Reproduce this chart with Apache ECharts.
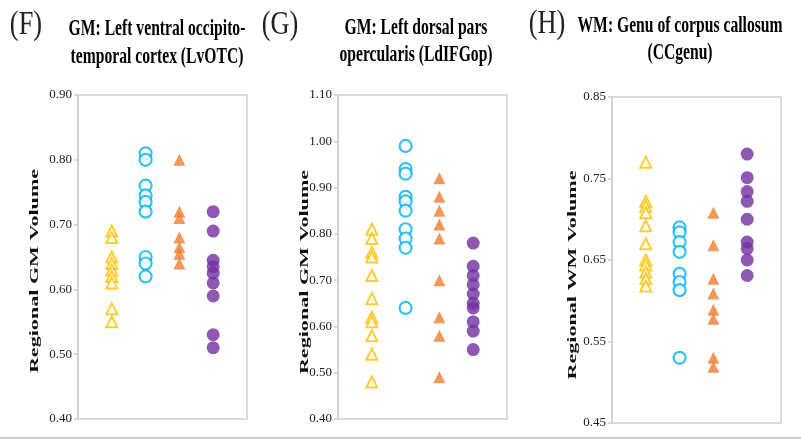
<!DOCTYPE html>
<html><head><meta charset="utf-8">
<script src="https://cdn.jsdelivr.net/npm/echarts@6/dist/echarts.min.js"></script>
<style>html,body{margin:0;padding:0;background:#fff}#c{width:801px;height:447px}</style>
</head><body><div id="c"></div>
<script>
// Groups (x positions 1..4 on each panel)
const groups = [1, 2, 3, 4];

// Panel F: GM LvOTC
const F_yellow = [0.69, 0.68, 0.65, 0.64, 0.63, 0.62, 0.61, 0.57, 0.55];
const F_blue   = [0.81, 0.80, 0.76, 0.745, 0.735, 0.72, 0.65, 0.64, 0.62];
const F_orange = [0.80, 0.72, 0.71, 0.68, 0.665, 0.655, 0.64];
const F_purple = [0.72, 0.69, 0.645, 0.635, 0.625, 0.61, 0.59, 0.53, 0.51];

// Panel G: GM LdIFGop
const G_yellow = [0.81, 0.79, 0.76, 0.75, 0.71, 0.66, 0.62, 0.61, 0.58, 0.54, 0.48];
const G_blue   = [0.99, 0.94, 0.93, 0.88, 0.87, 0.85, 0.81, 0.79, 0.77, 0.64];
const G_orange = [0.92, 0.88, 0.85, 0.82, 0.79, 0.70, 0.62, 0.58, 0.49];
const G_purple = [0.78, 0.73, 0.71, 0.69, 0.67, 0.65, 0.64, 0.61, 0.59, 0.55];

// Panel H: WM CCgenu
const H_yellow = [0.77, 0.722, 0.716, 0.708, 0.692, 0.67, 0.65, 0.644, 0.635, 0.627, 0.618];
const H_blue   = [0.69, 0.684, 0.672, 0.66, 0.633, 0.623, 0.613, 0.53];
const H_orange = [0.708, 0.668, 0.627, 0.609, 0.589, 0.578, 0.53, 0.519];
const H_purple = [0.78, 0.751, 0.734, 0.722, 0.70, 0.672, 0.664, 0.65, 0.631];

// Axis ranges and ticks
const F_ticks = { min: 0.40, max: 0.90, interval: 0.10 };
const G_ticks = { min: 0.40, max: 1.10, interval: 0.10 };
const H_ticks = { min: 0.45, max: 0.85, interval: 0.10 };

const panelLetters = ['(F)', '(G)', '(H)'];
const titles = [
  ['GM: Left ventral occipito-', 'temporal cortex (LvOTC)'],
  ['GM: Left dorsal pars', 'opercularis (LdIFGop)'],
  ['WM: Genu of corpus callosum', '(CCgenu)']
];
const axisNames = ['Regional GM Volume', 'Regional GM Volume', 'Regional WM Volume'];

const YELLOW = '#FFC000', BLUE = '#00B0F0', ORANGE = '#ED7D31', PURPLE = '#7030A0';

const grids = [
  { left: 78, width: 169, top: 95, height: 324 },
  { left: 338, width: 169, top: 95, height: 324 },
  { left: 612, width: 169, top: 97, height: 326 }
];
const panels = [
  [F_yellow, F_blue, F_orange, F_purple],
  [G_yellow, G_blue, G_orange, G_purple],
  [H_yellow, H_blue, H_orange, H_purple]
];
const ticks = [F_ticks, G_ticks, H_ticks];

const chart = echarts.init(document.getElementById('c'), null, { renderer: 'canvas' });

const option = {
  backgroundColor: '#fff',
  animation: false,
  grid: grids.map(g => Object.assign({ show: true, borderColor: '#cfcfcf', borderWidth: 1.5, backgroundColor: 'transparent' }, g)),
  xAxis: grids.map((g, i) => ({
    gridIndex: i, type: 'value', min: 0, max: 5,
    axisLine: { show: false }, axisTick: { show: false }, axisLabel: { show: false }, splitLine: { show: false }
  })),
  yAxis: ticks.map((t, i) => ({
    gridIndex: i, type: 'value', min: t.min, max: t.max, interval: t.interval,
    axisLine: { show: true, lineStyle: { color: '#cfcfcf', width: 1.5 } },
    axisTick: { show: true, length: 4, lineStyle: { color: '#cfcfcf', width: 1.5 } },
    splitLine: { show: false },
    axisLabel: { fontFamily: 'Liberation Serif', fontSize: 13, color: '#222', margin: 6,
      formatter: v => v.toFixed(2) }
  })),
  series: [],
  graphic: []
};

const styles = [
  { symbol: 'triangle', size: [11, 11], item: { color: '#fff', borderColor: YELLOW, borderWidth: 2 } },
  { symbol: 'circle', size: 12, item: { color: '#fff', borderColor: BLUE, borderWidth: 2.2 } },
  { symbol: 'triangle', size: [12, 12], item: { color: ORANGE } },
  { symbol: 'circle', size: 13, item: { color: PURPLE } }
];

panels.forEach((arrs, p) => {
  arrs.forEach((vals, k) => {
    option.series.push({
      type: 'scatter', xAxisIndex: p, yAxisIndex: p,
      symbol: styles[k].symbol, symbolSize: styles[k].size,
      itemStyle: styles[k].item,
      data: vals.map(v => [groups[k], v])
    });
  });
});

const letterPos = [[26, 25], [280, 25], [547, 24]];
const titlePos = [[157, 29, 57], [416, 28, 55], [680, 26, 53]];
const namePos = [[35, 271], [305, 272], [573, 275]];

panelLetters.forEach((t, i) => {
  option.graphic.push({ type: 'text', x: letterPos[i][0], y: letterPos[i][1], scaleX: 0.8,
    style: { text: t, font: '33px "Liberation Serif"', fill: '#222', textAlign: 'center', textVerticalAlign: 'middle' } });
  option.graphic.push({ type: 'text', x: titlePos[i][0], y: titlePos[i][1], scaleX: 0.68,
    style: { text: titles[i][0], font: 'bold 23px "Liberation Serif"', fill: '#000', textAlign: 'center', textVerticalAlign: 'middle' } });
  option.graphic.push({ type: 'text', x: titlePos[i][0], y: titlePos[i][2], scaleX: 0.68,
    style: { text: titles[i][1], font: 'bold 23px "Liberation Serif"', fill: '#000', textAlign: 'center', textVerticalAlign: 'middle' } });
  option.graphic.push({ type: 'text', x: namePos[i][0], y: namePos[i][1], rotation: Math.PI / 2, scaleX: 1.7,
    style: { text: axisNames[i], font: 'bold 13px "Liberation Serif"', fill: '#111', textAlign: 'center', textVerticalAlign: 'middle' } });
});

// bottom figure rule
option.graphic.push({ type: 'rect', shape: { x: 0, y: 437, width: 801, height: 2 }, style: { fill: '#cccccc' } });

chart.setOption(option);
</script>
</body></html>
